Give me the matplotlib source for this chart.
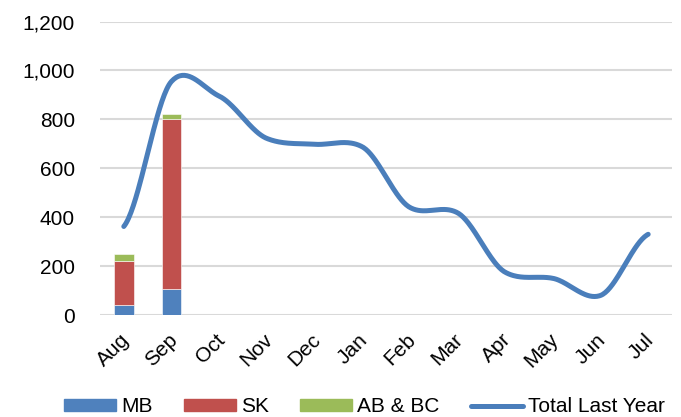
import numpy as np
import matplotlib.pyplot as plt
import matplotlib.transforms as mtransforms
from matplotlib.lines import Line2D
from matplotlib.patches import Patch

plt.rcParams['font.family'] = ['Liberation Sans', 'DejaVu Sans']

months = ['Aug', 'Sep', 'Oct', 'Nov', 'Dec', 'Jan', 'Feb', 'Mar', 'Apr', 'May', 'Jun', 'Jul']

# current year shipments by region (only two months so far)
mb = [40, 105]
sk = [180, 695]
ab_bc = [30, 20]

total_last_year = [362, 955, 895, 722, 698, 688, 440, 418, 175, 150, 80, 330]

c_mb = '#4F81BD'
c_sk = '#C0504D'
c_abbc = '#9BBB59'
c_line = '#4A7EBB'


def smooth(y, n=40, k=0.4):
    # cardinal spline through the points, similar to a spreadsheet "smoothed line"
    y = np.asarray(y, dtype=float)
    x = np.arange(len(y), dtype=float)
    m = np.zeros_like(y)
    m[1:-1] = k * (y[2:] - y[:-2])
    m[0] = k * (y[1] - y[0])
    m[-1] = k * (y[-1] - y[-2])
    xs, ys = [], []
    for i in range(len(y) - 1):
        t = np.linspace(0, 1, n, endpoint=False)
        h00 = 2 * t**3 - 3 * t**2 + 1
        h10 = t**3 - 2 * t**2 + t
        h01 = -2 * t**3 + 3 * t**2
        h11 = t**3 - t**2
        xs.append(x[i] + t)
        ys.append(h00 * y[i] + h10 * m[i] + h01 * y[i + 1] + h11 * m[i + 1])
    xs.append([x[-1]])
    ys.append([y[-1]])
    return np.concatenate(xs), np.concatenate(ys)


fig = plt.figure(figsize=(6.81, 4.17), dpi=100)
ax = fig.add_axes([0.1468, 0.2446, 0.84, 0.7038])

xb = np.arange(len(mb))
w = 0.41
ax.bar(xb, mb, w, color=c_mb, edgecolor='white', linewidth=0.4, zorder=2)
ax.bar(xb, sk, w, bottom=mb, color=c_sk, edgecolor='white', linewidth=0.4, zorder=2)
ax.bar(xb, ab_bc, w, bottom=np.add(mb, sk), color=c_abbc, edgecolor='white', linewidth=0.4, zorder=2)

sx, sy = smooth(total_last_year)
ax.plot(sx, sy, color=c_line, lw=3.6, solid_capstyle='round', zorder=3)

ax.set_xlim(-0.5, len(months) - 0.5)
ax.set_ylim(0, 1200)
ax.set_yticks(range(0, 1201, 200))
ax.set_yticklabels([f'{v:,}' for v in range(0, 1201, 200)])
ax.set_xticks(range(len(months)))
ax.set_xticklabels(months, rotation=45, ha='right', rotation_mode='anchor')
ax.tick_params(axis='y', length=0, pad=18, labelsize=15)
ax.tick_params(axis='x', length=0, pad=5, labelsize=15)

# nudge the slanted month labels a little left and down
shift = mtransforms.ScaledTranslation(-4 / 100, -8 / 100, fig.dpi_scale_trans)
for lbl in ax.get_xticklabels():
    lbl.set_transform(lbl.get_transform() + shift)

ax.grid(axis='y', color='#d9d9d9', lw=1.5, zorder=0)
ax.set_axisbelow(True)
for s in ax.spines.values():
    s.set_visible(False)

handles = [
    Patch(color=c_mb, label='MB'),
    Patch(color=c_sk, label='SK'),
    Patch(color=c_abbc, label='AB & BC'),
    Line2D([], [], color=c_line, lw=3.6, solid_capstyle='round', label='Total Last Year'),
]
fig.legend(handles=handles, loc='center', bbox_to_anchor=(0.535, 0.024), ncol=4,
           frameon=False, fontsize=15, handlelength=2.5, handleheight=0.5,
           handletextpad=0.25, columnspacing=1.5, borderpad=0, borderaxespad=0)

fig.savefig('out.png', dpi=100)
